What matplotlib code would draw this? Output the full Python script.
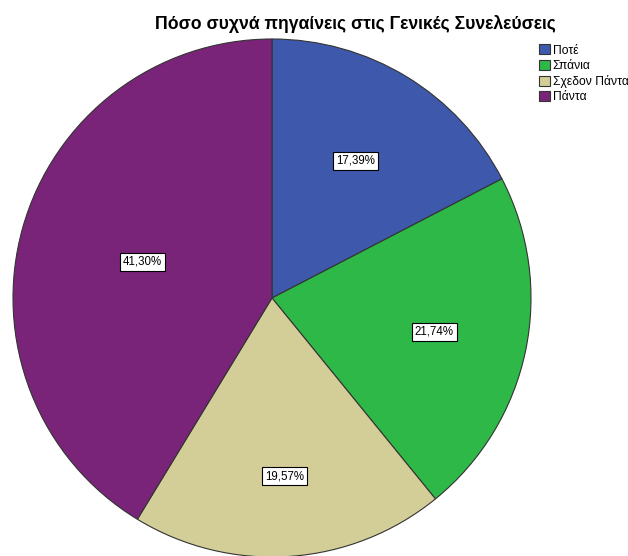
import matplotlib.pyplot as plt
import numpy as np

plt.rcParams['font.family'] = ['Liberation Sans', 'DejaVu Sans']

# data
labels = ['Ποτέ', 'Σπάνια', 'Σχεδον Πάντα', 'Πάντα']
values = [17.39, 21.74, 19.57, 41.30]
colors = ['#3E58AC', '#2EB848', '#D3CE97', '#7A2479']
label_dist = [0.62, 0.64, 0.69, 0.52]

fig = plt.figure(figsize=(6.28, 5.56), dpi=100)
ax = fig.add_axes([13 / 628, -1 / 556, 518 / 628, 518 / 556])

wedges, _ = ax.pie(values, colors=colors, startangle=90, counterclock=False,
                   radius=1, wedgeprops=dict(edgecolor='#333333', linewidth=0.8))
ax.set_xlim(-1, 1)
ax.set_ylim(-1, 1)
ax.set_aspect('equal')
ax.axis('off')

for w, v, d in zip(wedges, values, label_dist):
    ang = np.deg2rad((w.theta1 + w.theta2) / 2)
    ax.text(d * np.cos(ang), d * np.sin(ang), f'{v:.2f}%'.replace('.', ','),
            ha='center', va='center', fontsize=8.3,
            bbox=dict(boxstyle='square,pad=0.25', fc='white', ec='black', lw=0.8))

fig.text(355 / 628, 1 - 24 / 556, 'Πόσο συχνά πηγαίνεις στις Γενικές Συνελεύσεις',
         ha='center', va='center', fontsize=12.7, fontweight='bold')

fig.legend(wedges, labels, loc='upper left', bbox_to_anchor=(531 / 628, 1 - 36 / 556),
           frameon=False, fontsize=8.7, handlelength=0.85, handleheight=0.9,
           handletextpad=0.25, labelspacing=0.25, borderpad=0.2)

fig.savefig('out.png', dpi=100)
